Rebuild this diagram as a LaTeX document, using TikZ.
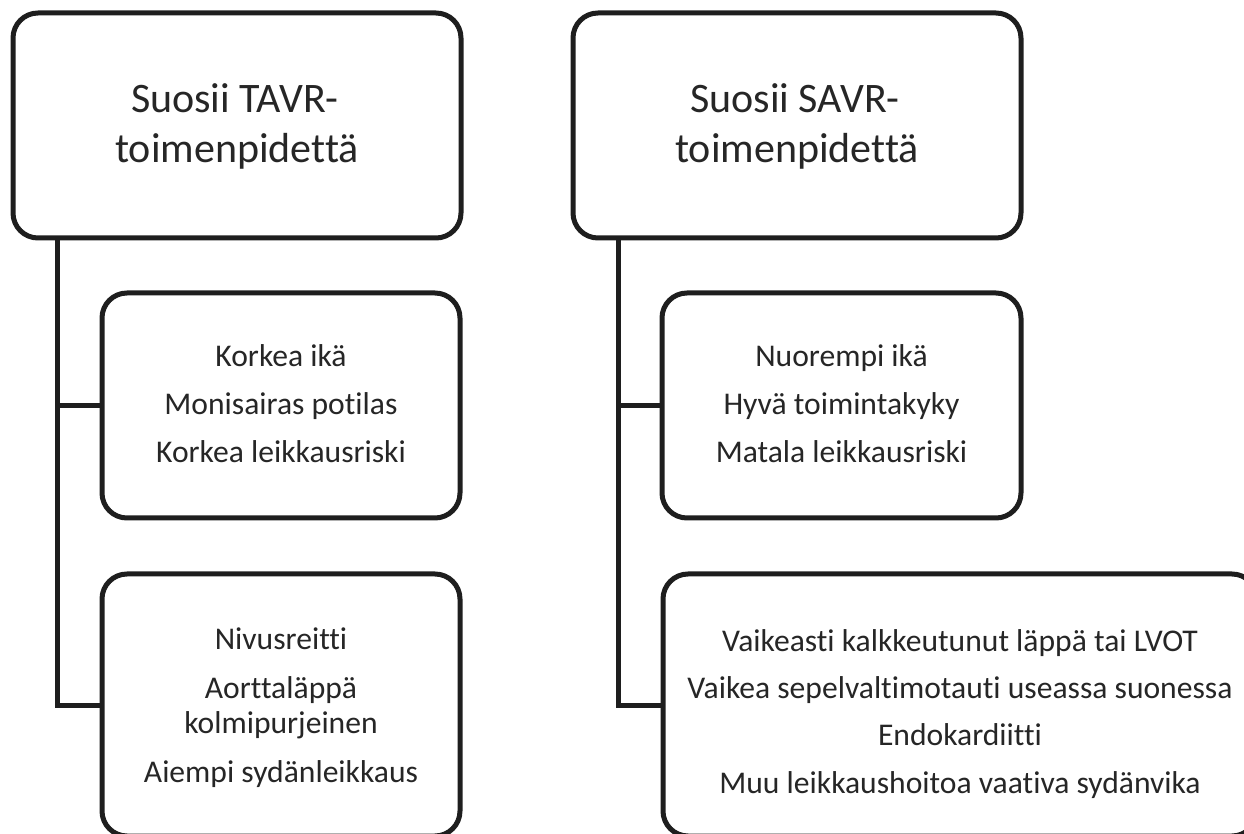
\documentclass[tikz,border=0pt]{standalone}
\usepackage{fontspec}
\setmainfont{Carlito}[Ligatures=NoCommon]
\definecolor{ink}{RGB}{30,30,30}
\definecolor{txt}{RGB}{38,38,38}
\tikzset{
  panel/.style={draw=ink, line width=2.5pt, rounded corners=12.5pt, inner sep=0pt, fill=white},
  link/.style={draw=ink, line width=2.5pt},
  head/.style={anchor=base, inner sep=0pt, text=txt, font=\fontsize{21}{25}\selectfont},
  item/.style={anchor=base, inner sep=0pt, text=txt, font=\fontsize{15.8}{19}\selectfont},
}
\begin{document}
\begin{tikzpicture}[x=0.5pt, y=-0.5pt]
  \useasboundingbox (0,0) rectangle (1244,834);
  \clip (0,0) rectangle (1244,834);

  % left column: TAVR
  \node[panel, minimum width=224pt, minimum height=112.5pt] (tavr) at (237,125.5) {};
  \node[panel, minimum width=179pt, minimum height=112.5pt] (tavrA) at (281,405.5) {};
  \node[panel, minimum width=179pt, minimum height=131pt] (tavrB) at (281,705) {};
  \coordinate (ltrunk) at (57,238);
  \draw[link] (ltrunk) |- (tavrB.west);
  \draw[link] (ltrunk |- tavrA.west) -- (tavrA.west);

  \node[head] (t1) at (235,113) {Suosii TAVR-};
  \node[head] (t2) at (237,163) {toimenpidettä};
  \node[item] (a1) at (281,367) {Korkea ikä};
  \node[item] (a2) at (281,415) {Monisairas potilas};
  \node[item] (a3) at (281,463) {Korkea leikkausriski};
  \node[item] (b1) at (281,649) {Nivusreitti};
  \node[item] (b2) at (281,698) {Aorttaläppä};
  \node[item] (b3) at (281,733) {kolmipurjeinen};
  \node[item] (b4) at (281,782) {Aiempi sydänleikkaus};

  % right column: SAVR
  \node[panel, minimum width=224pt, minimum height=112.5pt] (savr) at (797,125.5) {};
  \node[panel, minimum width=179.5pt, minimum height=112.5pt] (savrA) at (841.5,405.5) {};
  \node[panel, minimum width=297pt, minimum height=131pt] (savrB) at (960,705) {};
  \coordinate (rtrunk) at (618,238);
  \draw[link] (rtrunk) |- (savrB.west);
  \draw[link] (rtrunk |- savrA.west) -- (savrA.west);

  \node[head] (s1) at (795,113) {Suosii SAVR-};
  \node[head] (s2) at (797,163) {toimenpidettä};
  \node[item] (c1) at (841.5,367) {Nuorempi ikä};
  \node[item] (c2) at (841.5,415) {Hyvä toimintakyky};
  \node[item] (c3) at (841.5,463) {Matala leikkausriski};
  \node[item] (d1) at (960,651) {Vaikeasti kalkkeutunut läppä tai LVOT};
  \node[item] (d2) at (960,698) {Vaikea sepelvaltimotauti useassa suonessa};
  \node[item] (d3) at (960,745) {Endokardiitti};
  \node[item] (d4) at (960,793) {Muu leikkaushoitoa vaativa sydänvika};
\end{tikzpicture}
\end{document}
